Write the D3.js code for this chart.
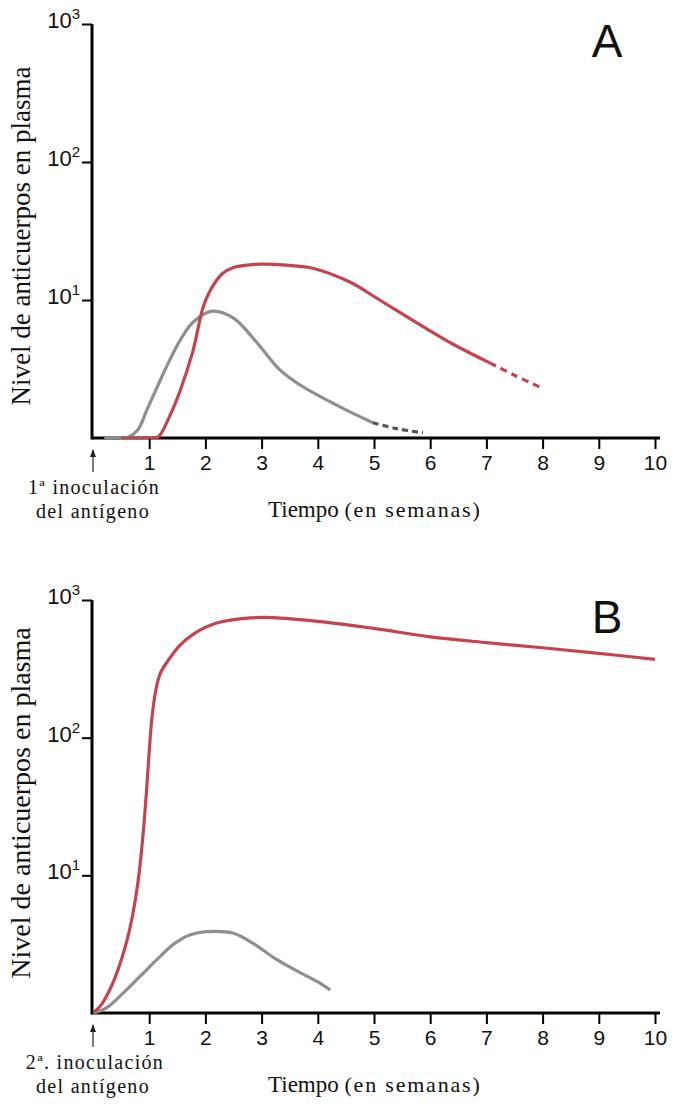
<!DOCTYPE html>
<html><head><meta charset="utf-8">
<script src="https://cdn.jsdelivr.net/npm/d3@7"></script>
<style>body{margin:0;background:#fff}</style>
</head><body>
<script>
// ---- data (weeks, antibody level) ----
const xTicks = [1,2,3,4,5,6,7,8,9,10];
const yTicks = [10,100,1000];
const yTickExp = ["1","2","3"];

// Panel A (primary response)
const grayA_t = [0.2,0.5,0.62,0.8,0.96,1.31,1.55,1.78,2.12,2.5,2.9,3.33,3.7,4.04,4.5,4.98];
const grayA_v = [1,1,1.01,1.15,1.6,3.3,5.1,6.9,8.3,7.4,5.0,3.1,2.4,2.0,1.6,1.29];
const grayA_dash_t = [4.98,5.4,5.87];
const grayA_dash_v = [1.29,1.17,1.09];
const redA_t = [0.5,1.0,1.16,1.35,1.55,1.78,1.96,2.1,2.3,2.5,2.74,3.0,3.5,3.91,4.57,5.1,5.77,6.4,7.06];
const redA_v = [1,1,1.02,1.4,2.2,4.3,8.9,12.0,15.5,17.2,17.9,18.2,17.8,17,13.5,10,6.8,4.8,3.5];
const redA_dash_t = [7.06,7.5,7.99];
const redA_dash_v = [3.5,2.85,2.3];

// Panel B (secondary response)
const grayB_t = [0,0.24,0.54,0.84,1.14,1.43,1.73,2.02,2.5,2.85,3.2,3.6,4.0,4.22];
const grayB_v = [1,1.09,1.4,1.85,2.45,3.15,3.7,3.9,3.8,3.2,2.55,2.05,1.68,1.47];
const redB_t = [0,0.15,0.3,0.45,0.6,0.7,0.8,0.88,0.95,1.0,1.05,1.12,1.2,1.35,1.55,1.8,2.2,2.8,3.2,4,5,6,7,8,9,10];
const redB_v = [1,1.15,1.48,2.09,3.31,5.0,8.9,17.8,39.8,79,141,224,295,370,470,570,680,741,745,700,622,540,490,450,410,370];

const W = 676, H = 1106;
const svg = d3.select("body").append("svg").attr("width", W).attr("height", H);

const red = "#c5434f", gray = "#8f8f8f";
const serif = "Liberation Serif, Times New Roman";
const sans = "Liberation Sans, Arial";

function panel(o) {
  const x = d3.scaleLinear().domain([0,10]).range([o.x0, o.x1]);
  const y = d3.scaleLog().domain([1,1000]).range([o.yb, o.yt]);
  const g = svg.append("g");

  // axes
  const xa = g.append("g").attr("transform", `translate(0,${o.yb})`)
    .call(d3.axisBottom(x).tickValues(xTicks).tickSize(11).tickSizeOuter(0).tickPadding(6));
  xa.select(".domain").attr("stroke","#000").attr("stroke-width",3)
    .attr("d", `M${o.x0-1},0H${o.x1+5}`);
  xa.selectAll(".tick line").attr("stroke","#000").attr("stroke-width",2);
  xa.selectAll(".tick text").attr("font-family",sans).attr("font-size",21).attr("fill","#111");

  const ya = g.append("g").attr("transform", `translate(${o.x0-1},0)`)
    .call(d3.axisLeft(y).tickValues(yTicks).tickSize(10).tickSizeOuter(0).tickFormat(""));
  ya.select(".domain").attr("stroke","#000").attr("stroke-width",3)
    .attr("d", `M0,${o.yt}V${o.yb+1.5}`);
  ya.selectAll(".tick line").attr("stroke","#000").attr("stroke-width",2);
  ya.selectAll(".tick").each(function(d,i){
    const t = d3.select(this).append("text").attr("x",-12).attr("dy","0.35em")
      .attr("text-anchor","end").attr("font-family",sans).attr("fill","#111");
    t.append("tspan").attr("font-size",22).text("10");
    t.append("tspan").attr("font-size",15).attr("dy","-0.6em").text(yTickExp[i]);
  });

  // y title
  g.append("text").attr("transform", `translate(${o.ylx},${o.ylc}) rotate(-90)`)
    .attr("text-anchor","middle").attr("font-family",serif)
    .attr("font-size",o.ylfs).attr("fill","#111").text("Nivel de anticuerpos en plasma");

  // x title
  const xt = g.append("text").attr("x", 268).attr("y", o.yb+79)
    .attr("font-family",serif).attr("fill","#111");
  xt.append("tspan").attr("font-size",23).text("Tiempo ");
  xt.append("tspan").attr("font-size",22).attr("letter-spacing",1.8).text("(en semanas)");

  // inoculation note
  g.append("text").attr("x", o.noteX).attr("y", o.yb+56).attr("text-anchor","middle")
    .attr("font-family",serif).attr("font-size",20).attr("letter-spacing",1.3).attr("fill","#111")
    .text(o.note1);
  g.append("text").attr("x", 93).attr("y", o.yb+80).attr("text-anchor","middle")
    .attr("font-family",serif).attr("font-size",20).attr("letter-spacing",1.3).attr("fill","#111")
    .text("del antígeno");
  // arrow
  g.append("line").attr("x1", x(0)).attr("x2", x(0)).attr("y1", o.yb+12).attr("y2", o.yb+34)
    .attr("stroke","#222").attr("stroke-width",1.2);
  g.append("path").attr("d", `M${x(0)-3},${o.yb+19}L${x(0)},${o.yb+11}L${x(0)+3},${o.yb+19}Z`).attr("fill","#222");

  // panel letter
  g.append("text").attr("x", 607).attr("y", o.yt+33).attr("text-anchor","middle")
    .attr("font-family",sans).attr("font-size",46).attr("fill","#111").text(o.letter);

  const clipId = "clip" + o.letter;
  svg.append("clipPath").attr("id", clipId).append("rect")
    .attr("x", o.x0).attr("y", o.yt).attr("width", o.x1 - o.x0 + 10).attr("height", o.yb - o.yt + 1);

  const line = d3.line().x(d=>x(d[0])).y(d=>y(d[1])).curve(d3.curveCatmullRom.alpha(0.5));
  const cg = g.append("g").attr("clip-path", `url(#${clipId})`);
  o.series.forEach(s => {
    cg.append("path").datum(d3.zip(s.t, s.v)).attr("d", line)
      .attr("fill","none").attr("stroke", s.c).attr("stroke-width", 3.2)
      .attr("stroke-linecap","butt")
      .attr("stroke-dasharray", s.dash || null);
  });
}

panel({x0:93, x1:655, yb:438, yt:24, ylx:30, ylc:236, ylfs:27, letter:"A", note1:"1ª inoculación", noteX:94,
  series:[
    {t:grayA_t, v:grayA_v, c:gray},
    {t:grayA_dash_t, v:grayA_dash_v, c:"#555", dash:"6,4"},
    {t:redA_t, v:redA_v, c:red},
    {t:redA_dash_t, v:redA_dash_v, c:red, dash:"7,5"}
  ]});

panel({x0:93, x1:655, yb:1013, yt:600, ylx:30, ylc:803, ylfs:28, letter:"B", note1:"2ª. inoculación", noteX:95,
  series:[
    {t:grayB_t, v:grayB_v, c:gray},
    {t:redB_t, v:redB_v, c:red}
  ]});
</script>
</body></html>
